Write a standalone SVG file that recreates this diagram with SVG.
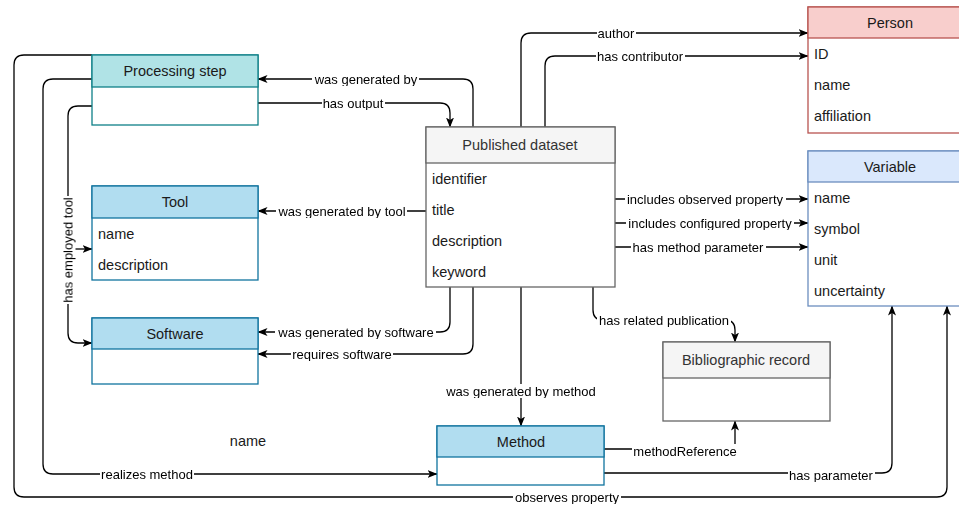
<svg xmlns="http://www.w3.org/2000/svg" width="959" height="506" viewBox="0 0 959 506">
<defs>
<marker id="arr" viewBox="0 0 10 8" refX="9.5" refY="4" markerWidth="10" markerHeight="8" markerUnits="userSpaceOnUse" orient="auto">
<path d="M0,0 L10,4 L0,8 L2.5,4 z" fill="#000"/>
</marker>
<filter id="bg" x="-0.01" y="0.05" width="1.02" height="0.9" color-interpolation-filters="sRGB">
<feFlood flood-color="#fff"/>
<feComposite in="SourceGraphic"/>
</filter>
<style>
text{font-family:"Liberation Sans",Arial,sans-serif;}
.t{font-size:14.5px;text-anchor:middle;fill:#1a1a1a;}
.tg{font-size:14.5px;text-anchor:middle;fill:#333;}
.r{font-size:14.5px;fill:#1a1a1a;}
.l{font-size:13px;text-anchor:middle;fill:#000;filter:url(#bg);}
.c{fill:none;stroke:#000;stroke-width:1.3;}
.a{marker-end:url(#arr);}
.bl{fill:#fff;stroke:#10739e;stroke-width:1.3;}
.blh{fill:#b1ddf0;stroke:#10739e;stroke-width:1.3;}
.tl{fill:#fff;stroke:#0e8088;stroke-width:1.3;}
.tlh{fill:#b0e3e6;stroke:#0e8088;stroke-width:1.3;}
.gr{fill:#fff;stroke:#666;stroke-width:1.3;}
.grh{fill:#f5f5f5;stroke:#666;stroke-width:1.3;}
.rd{fill:#fff;stroke:#b85450;stroke-width:1.3;}
.rdh{fill:#f8cecc;stroke:#b85450;stroke-width:1.3;}
.vb{fill:#fff;stroke:#6c8ebf;stroke-width:1.3;}
.vbh{fill:#dae8fc;stroke:#6c8ebf;stroke-width:1.3;}
</style>
</defs>
<rect width="959" height="506" fill="#fff"/>

<g id="connectors">
<path class="c a" d="M473,127 V89 Q473,79 463,79 H258"/>
<path class="c a" d="M258,103 H440 Q450,103 450,113 V127"/>
<path class="c a" d="M521,127 V43 Q521,33 531,33 H808"/>
<path class="c a" d="M545,127 V66 Q545,56 555,56 H808"/>
<path class="c a" d="M426,211 H258"/>
<path class="c a" d="M450,287 V322 Q450,332 440,332 H258"/>
<path class="c a" d="M473,287 V344 Q473,354 463,354 H258"/>
<path class="c a" d="M615,199 H808"/>
<path class="c a" d="M615,223 H808"/>
<path class="c a" d="M615,247 H808"/>
<path class="c a" d="M593,287 V310 Q593,320 603,320 H725 Q735,320 735,330 V342"/>
<path class="c a" d="M521,287 V426"/>
<path class="c a" d="M604,449 H735 V421"/>
<path class="c a" d="M604,473 H882 Q892,473 892,463 V306"/>
<path class="c a" d="M92,55 H24 Q14,55 14,65 V487 Q14,497 24,497 H937 Q947,497 947,487 V306"/>
<path class="c a" d="M92,79 H53 Q43,79 43,89 V464 Q43,474 53,474 H437"/>
<path class="c a" d="M92,106 H78 Q68,106 68,116 V333 Q68,343 78,343 H92"/>
<path class="c a" d="M68,249 H92"/>
<text class="l" x="366" y="83.5">was generated by</text>
<text class="l" x="353" y="107.5">has output</text>
<text class="l" x="616" y="37.5">author</text>
<text class="l" x="640" y="60.5">has contributor</text>
<text class="l" x="342" y="215.5">was generated by tool</text>
<text class="l" x="356" y="336.5">was generated by software</text>
<text class="l" x="342" y="358.5">requires software</text>
<text class="l" x="705" y="203.5">includes observed property</text>
<text class="l" x="710" y="227.5">includes configured property</text>
<text class="l" x="698" y="251.5">has method parameter</text>
<text class="l" x="664" y="324.5">has related publication</text>
<text class="l" x="521" y="395.5">was generated by method</text>
<text class="l" x="685" y="455.5">methodReference</text>
<text class="l" x="831" y="479.5">has parameter</text>
<text class="l" x="567" y="501.5">observes property</text>
<text class="l" x="147" y="478.5">realizes method</text>
<text class="l" transform="translate(72.5,250) rotate(-90)">has employed tool</text>
</g>

<g id="processing-step">
<rect class="tl" x="92" y="55" width="166" height="70"/>
<rect class="tlh" x="92" y="55" width="166" height="32"/>
<text class="t" x="175" y="76">Processing step</text>
</g>

<g id="tool">
<rect class="bl" x="92" y="186" width="166" height="94"/>
<rect class="blh" x="92" y="186" width="166" height="32"/>
<text class="t" x="175" y="207">Tool</text>
<text class="r" x="98" y="239">name</text>
<text class="r" x="98" y="270">description</text>
</g>

<g id="software">
<rect class="bl" x="92" y="318" width="166" height="66"/>
<rect class="blh" x="92" y="318" width="166" height="31"/>
<text class="t" x="175" y="339">Software</text>
</g>

<g id="published-dataset">
<rect class="gr" x="426" y="127" width="189" height="160"/>
<rect class="grh" x="426" y="127" width="189" height="36"/>
<text class="tg" x="520" y="150">Published dataset</text>
<text class="r" x="432" y="184">identifier</text>
<text class="r" x="432" y="215">title</text>
<text class="r" x="432" y="246">description</text>
<text class="r" x="432" y="277">keyword</text>
</g>

<g id="person">
<rect class="rd" x="808" y="7" width="164" height="126"/>
<rect class="rdh" x="808" y="7" width="164" height="31"/>
<text class="t" x="890" y="28">Person</text>
<text class="r" x="814" y="59">ID</text>
<text class="r" x="814" y="90">name</text>
<text class="r" x="814" y="121">affiliation</text>
</g>

<g id="variable">
<rect class="vb" x="808" y="151" width="164" height="155"/>
<rect class="vbh" x="808" y="151" width="164" height="31"/>
<text class="t" x="890" y="172">Variable</text>
<text class="r" x="814" y="203">name</text>
<text class="r" x="814" y="234">symbol</text>
<text class="r" x="814" y="265">unit</text>
<text class="r" x="814" y="296">uncertainty</text>
</g>

<g id="bibliographic-record">
<rect class="gr" x="663" y="342" width="167" height="79"/>
<rect class="grh" x="663" y="342" width="167" height="36"/>
<text class="tg" x="746" y="365">Bibliographic record</text>
</g>

<g id="method">
<rect class="bl" x="437" y="426" width="167" height="59"/>
<rect class="blh" x="437" y="426" width="167" height="31"/>
<text class="t" x="521" y="447">Method</text>
</g>

<g id="name-label">
<text class="r" x="248" y="446" text-anchor="middle">name</text>
</g>
</svg>
